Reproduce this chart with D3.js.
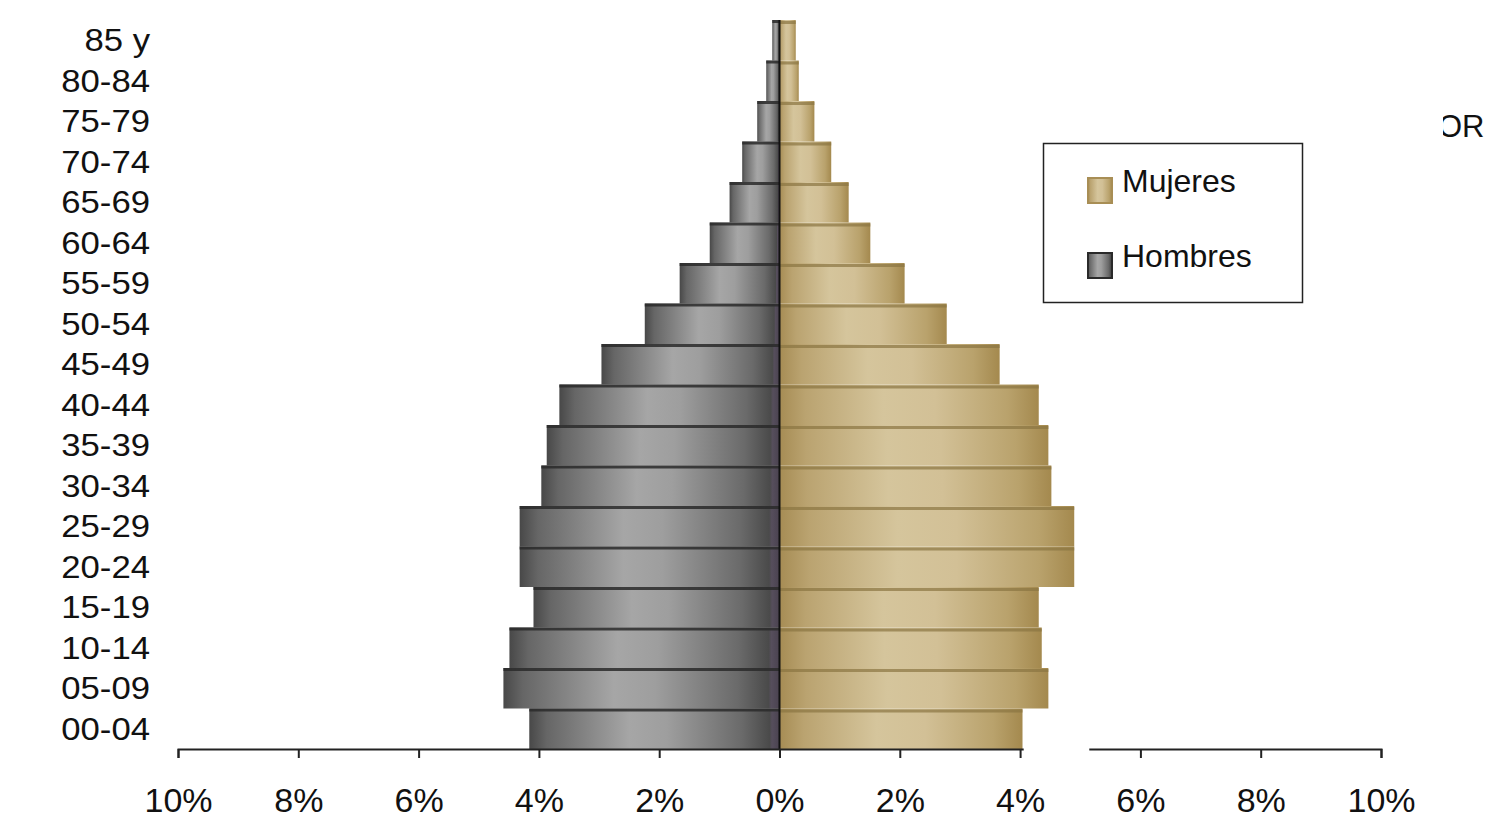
<!DOCTYPE html>
<html>
<head>
<meta charset="utf-8">
<script src="https://cdn.jsdelivr.net/npm/d3@7"></script>
<style>
  body { margin: 0; background: #fff; }
  text { font-family: "Liberation Sans", Arial, sans-serif; fill: #111; }
</style>
</head>
<body>
<div id="pyramid"></div>
<script>
// Age groups, bottom to top
const ageGroups = ["00-04", "05-09", "10-14", "15-19", "20-24", "25-29", "30-34", "35-39",
  "40-44", "45-49", "50-54", "55-59", "60-64", "65-69", "70-74", "75-79", "80-84", "85 y"];

// Percent of population
const hombres = [4.16, 4.59, 4.49, 4.09, 4.32, 4.32, 3.96, 3.87,
  3.66, 2.96, 2.24, 1.66, 1.16, 0.83, 0.62, 0.37, 0.22, 0.12];
const mujeres = [4.04, 4.47, 4.36, 4.31, 4.90, 4.90, 4.52, 4.47,
  4.31, 3.66, 2.78, 2.08, 1.51, 1.15, 0.86, 0.58, 0.32, 0.27];

const tickValues = [-10, -8, -6, -4, -2, 0, 2, 4, 6, 8, 10];
const legendItems = ["Mujeres", "Hombres"];

const width = 1499, height = 834;

const svg = d3.select("#pyramid")
  .append("svg")
  .attr("width", width)
  .attr("height", height);

const defs = svg.append("defs");

// Cylinder-like horizontal gradients
const menGrad = defs.append("linearGradient").attr("id", "gradMen")
  .attr("x1", "0%").attr("x2", "100%").attr("y1", "0%").attr("y2", "0%");
[[0, "#484848"], [0.07, "#666"], [0.4, "#a6a6a6"], [0.55, "#9e9e9e"],
 [0.85, "#6a6a6a"], [0.96, "#4a4a4a"], [0.97, "#564e5c"], [1, "#4a4250"]]
  .forEach(([o, c]) => menGrad.append("stop").attr("offset", o).attr("stop-color", c));

const womenGrad = defs.append("linearGradient").attr("id", "gradWomen")
  .attr("x1", "0%").attr("x2", "100%").attr("y1", "0%").attr("y2", "0%");
[[0, "#a68c54"], [0.1, "#baa370"], [0.4, "#d5c59c"], [0.6, "#d2c096"],
 [0.88, "#b9a26c"], [1, "#a4894e"]]
  .forEach(([o, c]) => womenGrad.append("stop").attr("offset", o).attr("stop-color", c));

const x = d3.scaleLinear()
  .domain([-10, 10])
  .range([178, 1381]);

const y = d3.scaleBand()
  .domain(ageGroups.slice().reverse())
  .range([20, 749])
  .padding(0);

const rows = ageGroups.map((a, i) => ({ age: a, men: hombres[i], women: mujeres[i] }));

// Hombres (left)
svg.selectAll("rect.men")
  .data(rows)
  .join("rect")
  .attr("class", "men")
  .attr("x", d => x(-d.men))
  .attr("y", d => y(d.age))
  .attr("width", d => x(0) - x(-d.men))
  .attr("height", y.bandwidth())
  .attr("fill", "url(#gradMen)");

svg.selectAll("rect.menTop")
  .data(rows)
  .join("rect")
  .attr("class", "menTop")
  .attr("x", d => x(-d.men))
  .attr("y", d => y(d.age))
  .attr("width", d => x(0) - x(-d.men))
  .attr("height", 3)
  .attr("fill", "#2a2a2a")
  .attr("opacity", 0.85);

// Mujeres (right)
svg.selectAll("rect.women")
  .data(rows)
  .join("rect")
  .attr("class", "women")
  .attr("x", x(0))
  .attr("y", d => y(d.age))
  .attr("width", d => x(d.women) - x(0))
  .attr("height", y.bandwidth())
  .attr("fill", "url(#gradWomen)");

svg.selectAll("rect.womenTop")
  .data(rows)
  .join("rect")
  .attr("class", "womenTop")
  .attr("x", x(0))
  .attr("y", d => y(d.age) + 1)
  .attr("width", d => x(d.women) - x(0))
  .attr("height", 3)
  .attr("fill", "#8a7542")
  .attr("opacity", 0.7);

// Center line
svg.append("line")
  .attr("x1", x(0)).attr("x2", x(0))
  .attr("y1", y(ageGroups[ageGroups.length - 1]))
  .attr("y2", 749)
  .attr("stroke", "#111")
  .attr("stroke-width", 2);

// X axis
const xAxis = svg.append("g")
  .attr("transform", "translate(0,749)")
  .call(d3.axisBottom(x).tickValues(tickValues).tickSize(9)
    .tickFormat(d => Math.abs(d) + "%"));
xAxis.select(".domain").attr("stroke", "#222").attr("stroke-width", 2);
xAxis.selectAll(".tick line").attr("stroke", "#222").attr("stroke-width", 2);
xAxis.selectAll(".tick text")
  .attr("y", 63)
  .attr("dy", 0)
  .style("font-family", "'Liberation Sans', Arial, sans-serif")
  .style("font-size", "34px")
  .attr("fill", "#111");

// white break in the axis line, as in the original
svg.append("rect")
  .attr("x", x(4.06)).attr("y", 746)
  .attr("width", x(5.15) - x(4.06)).attr("height", 6)
  .attr("fill", "#fff");

// Y labels
svg.selectAll("text.age")
  .data(ageGroups)
  .join("text")
  .attr("class", "age")
  .attr("transform", d => `translate(150,${y(d) + y.bandwidth() / 2 + 11}) scale(1.12,1)`)
  .attr("text-anchor", "end")
  .style("font-size", "31px")
  .text(d => d);

// Legend
const legend = svg.append("g");
legend.append("rect")
  .attr("x", 1043.5).attr("y", 143.5)
  .attr("width", 259).attr("height", 159)
  .attr("fill", "#fff")
  .attr("stroke", "#222")
  .attr("stroke-width", 1.5);

legendItems.forEach((name, i) => {
  const ly = 190 + i * 75;
  legend.append("rect")
    .attr("x", 1088).attr("y", ly - 12)
    .attr("width", 24).attr("height", 25)
    .attr("fill", name === "Mujeres" ? "url(#gradWomen)" : "url(#gradMen)")
    .attr("stroke", name === "Mujeres" ? "#a88e55" : "#2a2a2a")
    .attr("stroke-width", 2);
  legend.append("text")
    .attr("x", 1122).attr("y", ly + 2)
    .style("font-size", "32px")
    .text(name);
});

// stray text at right edge
defs.append("clipPath").attr("id", "clipOR")
  .append("rect").attr("x", 1443).attr("y", 100).attr("width", 60).attr("height", 50);
svg.append("text")
  .attr("x", 1438).attr("y", 137)
  .attr("clip-path", "url(#clipOR)")
  .style("font-size", "31px")
  .style("font-weight", "300")
  .attr("fill", "#333")
  .text("OR");
</script>
</body>
</html>
